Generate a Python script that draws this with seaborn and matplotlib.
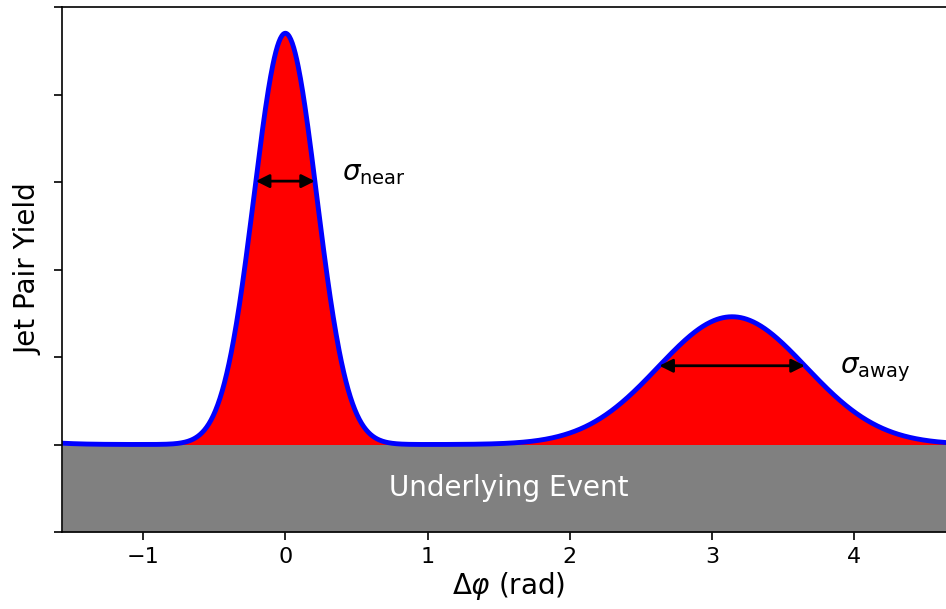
import numpy as np
import pandas as pd
import matplotlib
matplotlib.use("Agg")
import matplotlib.pyplot as plt
import seaborn as sns

# --- data ---
peak_names = ["near", "away"]
peak_centers = [0.0, np.pi]
peak_amplitudes = [4.70, 1.46]
peak_sigmas = [0.22, 0.52]
underlying_level = 1.0
arrow_heights = [4.01, 1.90]
x_ticks = [-1, 0, 1, 2, 3, 4]
y_ticks = [0, 1, 2, 3, 4, 5, 6]

sns.set_style("ticks")
plt.rcParams["font.family"] = ["DejaVu Sans"]
plt.rcParams["text.color"] = "black"
plt.rcParams["axes.labelcolor"] = "black"
plt.rcParams["xtick.color"] = "black"
plt.rcParams["ytick.color"] = "black"

x = np.linspace(-np.pi / 2, 3 * np.pi / 2, 1200)
y = np.full_like(x, underlying_level)
for c, a, s in zip(peak_centers, peak_amplitudes, peak_sigmas):
    for shift in (-2 * np.pi, 0, 2 * np.pi):
        y = y + a * np.exp(-((x - c - shift) ** 2) / (2 * s ** 2))
df = pd.DataFrame({"dphi": x, "yield": y})

fig = plt.figure(figsize=(9.46, 6.09), dpi=100)
ax = fig.add_axes([62 / 946, 1 - 532 / 609, 1 - 62 / 946 + 0.01, (532 - 7) / 609])

ax.fill_between(x, 0, underlying_level, color="gray", lw=0)
ax.fill_between(x, underlying_level, y, color="red", lw=0)
sns.lineplot(data=df, x="dphi", y="yield", ax=ax, color="blue", lw=3.5, sort=False)

for name, c, a, s, h in zip(peak_names, peak_centers, peak_amplitudes, peak_sigmas, arrow_heights):
    hw = s * np.sqrt(2 * np.log(a / (h - underlying_level)))
    ax.annotate("", xy=(c - hw, h), xytext=(c + hw, h),
                arrowprops=dict(arrowstyle="<|-|>", color="black", lw=2,
                                mutation_scale=20, shrinkA=0, shrinkB=0))

ax.text(0.40, 4.10, r"$\sigma_{\rm near}$", fontsize=20, ha="left", va="center")
ax.text(3.90, 1.86, r"$\sigma_{\rm away}$", fontsize=20, ha="left", va="center")
ax.text(np.pi / 2, 0.5, "Underlying Event", fontsize=20, color="white",
        ha="center", va="center")

ax.set_xlim(-np.pi / 2, 3 * np.pi / 2)
ax.set_ylim(0, 6)
ax.set_xticks(x_ticks)
ax.set_xticklabels([("\u2212" + str(-t)) if t < 0 else str(t) for t in x_ticks])
ax.set_yticks(y_ticks)
ax.set_yticklabels([])
ax.tick_params(labelsize=16, length=6, width=1.2, pad=5)
ax.set_xlabel(r"$\Delta\varphi$ (rad)", fontsize=20, labelpad=2)
ax.set_ylabel("Jet Pair Yield", fontsize=20, labelpad=3)
ax.spines["right"].set_visible(False)
for sp in ["left", "bottom", "top"]:
    ax.spines[sp].set_linewidth(1.2)
    ax.spines[sp].set_color("black")

fig.savefig("out.png", dpi=100)
